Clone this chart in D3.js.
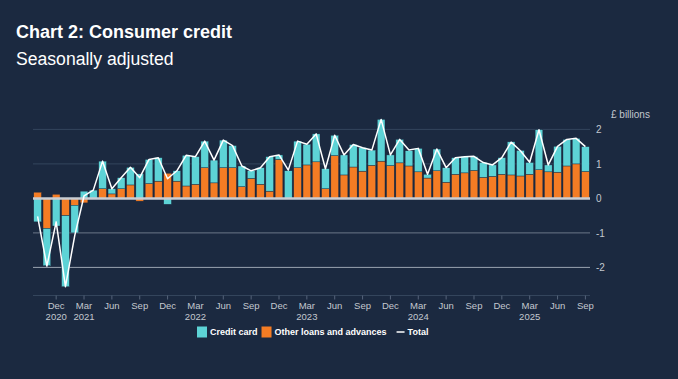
<!DOCTYPE html>
<html><head><meta charset="utf-8">
<script src="https://cdn.jsdelivr.net/npm/d3@7"></script>
<style>
html,body{margin:0;padding:0;background:#1b2940;}
svg{display:block;font-family:"Liberation Sans",Arial,sans-serif;}
</style></head>
<body><svg id="c" width="678" height="379"></svg>
<script>
const months = [
"Oct 2020","Nov 2020","Dec 2020","Jan 2021","Feb 2021","Mar 2021","Apr 2021","May 2021","Jun 2021","Jul 2021","Aug 2021","Sep 2021",
"Oct 2021","Nov 2021","Dec 2021","Jan 2022","Feb 2022","Mar 2022","Apr 2022","May 2022","Jun 2022","Jul 2022","Aug 2022","Sep 2022",
"Oct 2022","Nov 2022","Dec 2022","Jan 2023","Feb 2023","Mar 2023","Apr 2023","May 2023","Jun 2023","Jul 2023","Aug 2023","Sep 2023",
"Oct 2023","Nov 2023","Dec 2023","Jan 2024","Feb 2024","Mar 2024","Apr 2024","May 2024","Jun 2024","Jul 2024","Aug 2024","Sep 2024",
"Oct 2024","Nov 2024","Dec 2024","Jan 2025","Feb 2025","Mar 2025","Apr 2025","May 2025","Jun 2025","Jul 2025","Aug 2025","Sep 2025"];
const creditCard = [
-0.68,-1.08,-0.80,-2.06,-0.80,0.21,0.24,0.80,0.15,0.32,0.51,0.71,
0.70,0.68,-0.17,0.30,0.89,0.80,0.77,0.66,0.80,0.64,0.60,0.22,
0.48,1.00,0.13,0.80,0.77,0.60,0.81,0.58,0.59,0.58,0.65,0.68,
0.44,1.21,0.31,0.68,0.44,0.68,0.11,0.63,0.42,0.48,0.47,0.40,
0.43,0.33,0.48,0.96,0.74,0.34,1.16,0.20,0.75,0.77,0.74,0.72];
const otherLoans = [
0.18,-0.87,0.12,-0.50,-0.20,-0.13,0.00,0.28,0.13,0.28,0.39,-0.08,
0.43,0.50,0.73,0.50,0.36,0.41,0.89,0.45,0.89,0.89,0.34,0.58,
0.41,0.21,1.13,0.00,0.89,0.97,1.06,0.28,1.24,0.68,0.91,0.79,
0.96,1.08,0.95,1.03,0.94,0.77,0.59,0.80,0.47,0.70,0.74,0.81,
0.61,0.64,0.70,0.68,0.65,0.70,0.83,0.77,0.76,0.94,1.00,0.78];
const total = [
-0.52,-1.96,-0.68,-2.56,-1.08,0.07,0.24,1.08,0.28,0.60,0.90,0.60,
1.13,1.18,0.57,0.80,1.25,1.21,1.66,1.11,1.69,1.53,0.94,0.80,
0.89,1.21,1.26,0.82,1.66,1.57,1.87,0.86,1.83,1.26,1.56,1.47,
1.40,2.29,1.26,1.71,1.40,1.45,0.70,1.43,0.89,1.18,1.21,1.22,
1.04,0.97,1.18,1.63,1.38,1.05,1.99,0.97,1.51,1.71,1.74,1.50];
const tickMonths = ["Dec 2020","Mar 2021","Jun 2021","Sep 2021","Dec 2021","Mar 2022","Jun 2022","Sep 2022","Dec 2022","Mar 2023","Jun 2023","Sep 2023","Dec 2023","Mar 2024","Jun 2024","Sep 2024","Dec 2024","Mar 2025","Jun 2025","Sep 2025"];
const tickLine1 = ["Dec","Mar","Jun","Sep","Dec","Mar","Jun","Sep","Dec","Mar","Jun","Sep","Dec","Mar","Jun","Sep","Dec","Mar","Jun","Sep"];
const tickLine2 = ["2020","2021","","","","2022","","","","2023","","","","2024","","","","2025","",""];
const yTicks = [-2,-1,0,1,2];
const seriesKeys = ["other","credit"];
const seriesNames = {credit:"Credit card", other:"Other loans and advances"};
const colors = {credit:"#5dd3d6", other:"#f47c24"};

const svg = d3.select("#c");
const W = 678, H = 379;
svg.append("rect").attr("width",W).attr("height",H).attr("fill","#1b2940");

svg.append("text").attr("x",16).attr("y",38).attr("fill","#fff")
  .attr("font-size",18).attr("font-weight","bold").text("Chart 2: Consumer credit");
svg.append("text").attr("x",16).attr("y",65).attr("fill","#fff")
  .attr("font-size",17.6).text("Seasonally adjusted");

const x = d3.scaleBand().domain(months).range([33,590]).paddingInner(0.17).paddingOuter(0.08);
const y = d3.scaleLinear().domain([-2.8,2.6]).range([295,108.7]);

const rows = months.map((m,i)=>({m, credit:creditCard[i], other:otherLoans[i], total:total[i]}));

// grid lines
const gridColor = v => v>0 ? "#34455c" : (v===-1 ? "#6c7787" : "#9ba4b0");
yTicks.filter(v=>v!==0).forEach(v=>{
  svg.append("line").attr("x1",33).attr("x2",590).attr("y1",y(v)).attr("y2",y(v))
    .attr("stroke",gridColor(v)).attr("stroke-width",1);
});
// bottom axis line
svg.append("line").attr("x1",33).attr("x2",590).attr("y1",295.5).attr("y2",295.5)
  .attr("stroke","#34455c").attr("stroke-width",1);

// y axis on right
const yAxis = d3.axisRight(y).tickValues(yTicks).tickSize(0).tickPadding(6).tickFormat(d=>String(d));
const ya = svg.append("g").attr("transform","translate(590,0)").call(yAxis);
ya.select(".domain").remove();
ya.selectAll("text").attr("fill","#c3c8cf").attr("font-size",10).attr("font-family","Liberation Sans, Arial, sans-serif");
svg.append("text").attr("x",611).attr("y",118).attr("fill","#c3c8cf").attr("font-size",10).text("£ billions");

// stacked bars
const stack = d3.stack().keys(seriesKeys).offset(d3.stackOffsetDiverging);
const stacked = stack(rows);
svg.append("g").selectAll("g").data(stacked).join("g")
  .attr("fill",d=>colors[d.key])
  .selectAll("rect").data(d=>d).join("rect")
  .attr("x",d=>x(d.data.m)).attr("width",x.bandwidth())
  .attr("y",d=>y(Math.max(d[0],d[1])))
  .attr("height",d=>Math.abs(y(d[0])-y(d[1])))
  .attr("stroke","#1b2940").attr("stroke-width",0.4);

// zero line
svg.append("line").attr("x1",33).attr("x2",590).attr("y1",y(0)).attr("y2",y(0))
  .attr("stroke","#c9cdd3").attr("stroke-width",2.5);

// total line
const line = d3.line().x(d=>x(d.m)+x.bandwidth()/2).y(d=>y(d.total));
svg.append("path").datum(rows).attr("d",line).attr("fill","none")
  .attr("stroke","#ffffff").attr("stroke-width",1.5).attr("stroke-linejoin","round");

// x axis ticks
const xa = d3.axisBottom(x).tickValues(tickMonths).tickSize(4).tickFormat("");
const xg = svg.append("g").attr("transform","translate(0,295.5)").call(xa);
xg.select(".domain").remove();
xg.selectAll("line").attr("stroke","#56647a");
tickMonths.forEach((m,i)=>{
  const cx = x(m)+x.bandwidth()/2;
  svg.append("text").attr("x",cx).attr("y",308.5).attr("text-anchor","middle")
    .attr("fill","#c3c8cf").attr("font-size",9.5).text(tickLine1[i]);
  if (tickLine2[i]) svg.append("text").attr("x",cx).attr("y",319.5).attr("text-anchor","middle")
    .attr("fill","#c3c8cf").attr("font-size",9.5).text(tickLine2[i]);
});

// legend
const lg = svg.append("g");
let lx = 197;
const ly = 332;
["credit","other"].forEach(k=>{
  lg.append("rect").attr("x",lx).attr("y",ly-5.5).attr("width",10).attr("height",11).attr("fill",colors[k]);
  const t = lg.append("text").attr("x",lx+13).attr("y",ly+3.3).attr("fill","#fff")
    .attr("font-size",9).attr("font-weight","bold").text(seriesNames[k]);
  lx += 13 + t.node().getComputedTextLength() + 4;
});
lx += 6;
lg.append("line").attr("x1",lx).attr("x2",lx+8).attr("y1",ly).attr("y2",ly).attr("stroke","#fff").attr("stroke-width",1.5);
lg.append("text").attr("x",lx+11).attr("y",ly+3.3).attr("fill","#fff")
  .attr("font-size",9).attr("font-weight","bold").text("Total");
</script></body></html>
